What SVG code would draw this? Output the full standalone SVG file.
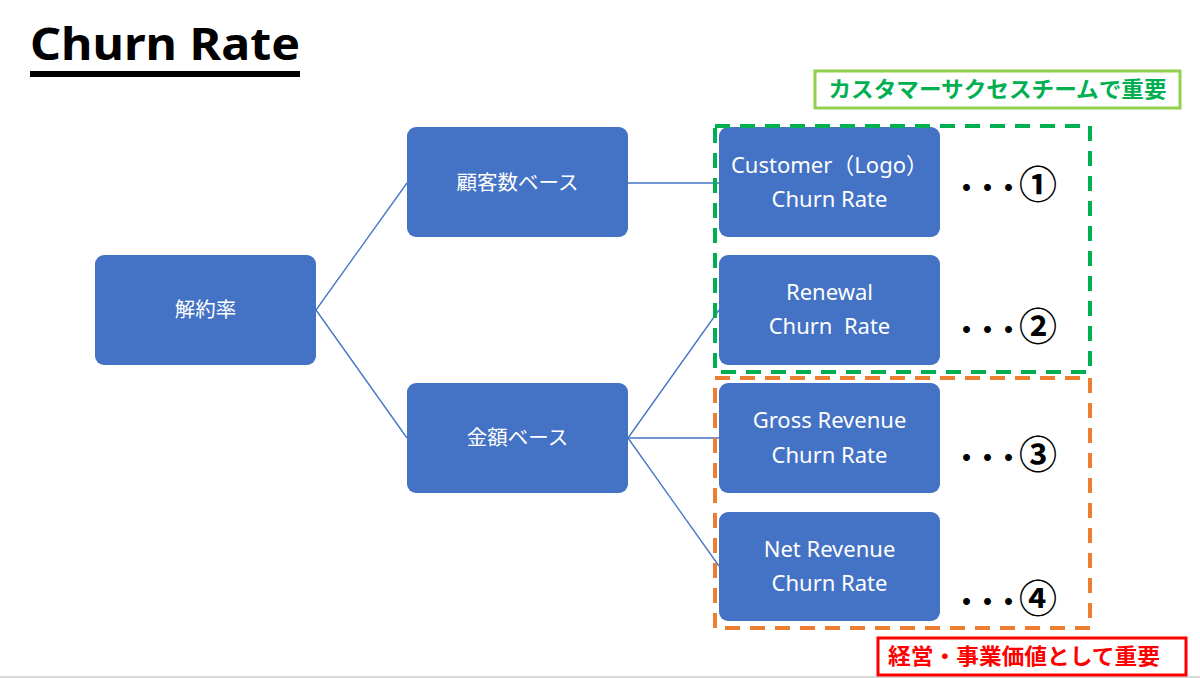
<svg xmlns="http://www.w3.org/2000/svg" width="1200" height="678" viewBox="0 0 1200 678">
<style>
.node rect{fill:#4472C4;}
.nt{fill:#ffffff;font-family:"Noto Sans","Noto Sans CJK JP",sans-serif;font-size:22px;text-anchor:middle;}
.jt{fill:#ffffff;font-family:"Noto Sans CJK JP",sans-serif;font-size:20.5px;text-anchor:middle;}
.conn line{stroke:#4472C4;stroke-width:1.3;}
.mark{font-family:"Noto Sans CJK JP",sans-serif;font-weight:bold;fill:#000;}
.dots{font-size:27px;letter-spacing:-6px;}
.num{font-size:38px;}
.lbl{font-family:"Noto Sans CJK JP",sans-serif;font-weight:bold;font-size:22px;}
</style>
<rect x="0" y="0" width="1200" height="678" fill="#ffffff"/>
<line x1="0" y1="677" x2="1200" y2="677" stroke="#d9d9d9" stroke-width="2"/>
<g id="title">
<text x="30" y="60" font-family="Noto Sans, Liberation Sans, sans-serif" font-weight="bold" font-size="44" textLength="270" lengthAdjust="spacingAndGlyphs" fill="#000">Churn Rate</text>
<rect x="30" y="71" width="270" height="6" fill="#000"/>
</g>
<g id="connectors" class="conn">
<line x1="316" y1="310" x2="407" y2="183"/>
<line x1="316" y1="310" x2="407" y2="438"/>
<line x1="628" y1="183" x2="719" y2="183"/>
<line x1="628" y1="438" x2="719" y2="310"/>
<line x1="628" y1="438" x2="719" y2="438"/>
<line x1="628" y1="438" x2="719" y2="566"/>
</g>
<g id="n-kaiyaku" class="node"><rect x="95" y="255" width="221" height="110" rx="9"/><text class="jt" x="205.5" y="317">解約率</text></g>
<g id="n-kokyaku" class="node"><rect x="407" y="127" width="221" height="110" rx="9"/><text class="jt" x="517.5" y="190">顧客数ベース</text></g>
<g id="n-kingaku" class="node"><rect x="407" y="383" width="221" height="110" rx="9"/><text class="jt" x="517.5" y="445">金額ベース</text></g>
<g id="n-customer" class="node"><rect x="719" y="127" width="221" height="110" rx="9"/><text class="nt" x="829.5" y="173">Customer（Logo）</text><text class="nt" x="829.5" y="207">Churn Rate</text></g>
<g id="n-renewal" class="node"><rect x="719" y="255" width="221" height="110" rx="9"/><text class="nt" x="829.5" y="300">Renewal</text><text class="nt" x="829.5" y="334" xml:space="preserve">Churn  Rate</text></g>
<g id="n-gross" class="node"><rect x="719" y="383" width="221" height="110" rx="9"/><text class="nt" x="829.5" y="428">Gross Revenue</text><text class="nt" x="829.5" y="463">Churn Rate</text></g>
<g id="n-net" class="node"><rect x="719" y="512" width="221" height="109" rx="9"/><text class="nt" x="829.5" y="557">Net Revenue</text><text class="nt" x="829.5" y="591">Churn Rate</text></g>
<g id="group-cs">
<rect x="715" y="126" width="375" height="246" fill="none" stroke="#00B050" stroke-width="4" stroke-dasharray="15,10"/>
<rect x="815" y="71" width="365" height="37" fill="#fff" stroke="#92D050" stroke-width="3"/>
<text class="lbl" x="997.5" y="97" fill="#00B050" text-anchor="middle" textLength="338" lengthAdjust="spacingAndGlyphs">カスタマーサクセスチームで重要</text>
</g>
<g id="group-biz">
<rect x="715" y="378" width="375" height="250" fill="none" stroke="#ED7D31" stroke-width="4" stroke-dasharray="15,10"/>
<rect x="878" y="638" width="308" height="37" fill="#fff" stroke="#FF0000" stroke-width="3"/>
<text class="lbl" x="1024" y="664" fill="#FF0000" text-anchor="middle" textLength="272" lengthAdjust="spacingAndGlyphs">経営・事業価値として重要</text>
</g>
<g id="marks">
<text class="mark" x="953" y="198"><tspan class="dots">・・・</tspan><tspan class="num" dx="3">①</tspan></text>
<text class="mark" x="953" y="340"><tspan class="dots">・・・</tspan><tspan class="num" dx="3">②</tspan></text>
<text class="mark" x="953" y="468"><tspan class="dots">・・・</tspan><tspan class="num" dx="3">③</tspan></text>
<text class="mark" x="953" y="612"><tspan class="dots">・・・</tspan><tspan class="num" dx="3">④</tspan></text>
</g>
</svg>
